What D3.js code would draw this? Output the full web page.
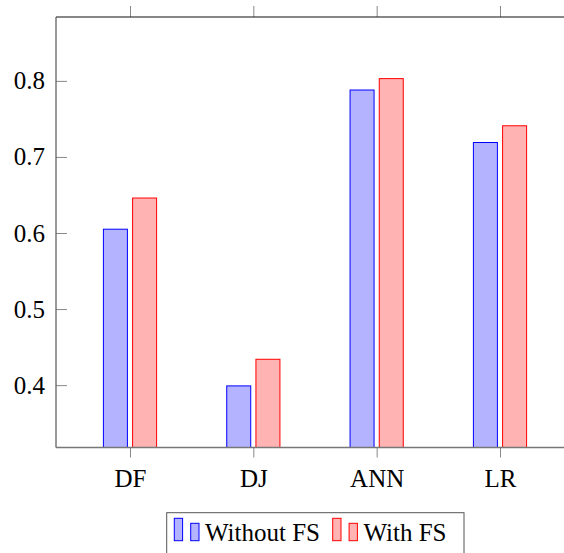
<!DOCTYPE html>
<html>
<head>
<meta charset="utf-8">
<script src="https://cdn.jsdelivr.net/npm/d3@7/dist/d3.min.js"></script>
<style>
  html, body { margin: 0; padding: 0; background: #fff; }
  svg { display: block; }
</style>
</head>
<body>
<script>
const categories = ["DF", "DJ", "ANN", "LR"];
const withoutFS = [0.605, 0.399, 0.788, 0.719];
const withFS = [0.646, 0.434, 0.803, 0.741];
const yTicks = [0.4, 0.5, 0.6, 0.7, 0.8];
const seriesNames = ["Without FS", "With FS"];

(function () {
const W = 564, H = 553;
const pLeft = 56, pTop = 17, pBottom = 447.5, pRight = 574;
const FONT = "Liberation Serif";

const svg = d3.select("body").append("svg").attr("width", W).attr("height", H);

const y = d3.scaleLinear().domain([0.318, 0.884]).range([pBottom, pTop]);
const x = d3.scalePoint().domain(categories).range([130, 500]);

const barW = 24, off = 14.6;
const series = [
  { name: seriesNames[0], values: withoutFS, fill: "#b3b3ff", stroke: "#0000ff", dx: -off },
  { name: seriesNames[1], values: withFS, fill: "#ffb3b3", stroke: "#ff0000", dx: off }
];

// bars
series.forEach(s => {
  svg.append("g").selectAll("rect").data(categories).join("rect")
    .attr("x", (c) => x(c) + s.dx - barW / 2)
    .attr("y", (c, i) => y(s.values[i]))
    .attr("width", barW)
    .attr("height", (c, i) => pBottom - y(s.values[i]))
    .attr("fill", s.fill)
    .attr("stroke", s.stroke)
    .attr("stroke-width", 1);
});

// y axis ticks (inward) and labels
const yAxis = d3.axisLeft(y).tickValues(yTicks).tickFormat(d3.format(".1f")).tickSize(-11).tickPadding(22);
const gy = svg.append("g").attr("transform", `translate(${pLeft},0)`).call(yAxis)
  .attr("font-family", FONT).attr("font-size", 25);
gy.select(".domain").remove();
gy.selectAll(".tick line").attr("stroke", "#888");
gy.selectAll(".tick text").style("font-family", FONT).style("font-size", "25px").attr("x", -11).attr("fill", "#000");

// bottom x axis (outward ticks)
const xAxis = d3.axisBottom(x).tickSize(10).tickPadding(12);
const gx = svg.append("g").attr("transform", `translate(0,${pBottom})`).call(xAxis)
  .attr("font-family", FONT).attr("font-size", 25);
gx.select(".domain").remove();
gx.selectAll(".tick line").attr("stroke", "#888");
gx.selectAll(".tick text").style("font-family", FONT).style("font-size", "25px").attr("fill", "#000");

// top ticks (outward)
const xTop = d3.axisTop(x).tickSize(11).tickFormat("");
const gt = svg.append("g").attr("transform", `translate(0,${pTop})`).call(xTop);
gt.select(".domain").remove();
gt.selectAll(".tick line").attr("stroke", "#888");

// frame
svg.append("line").attr("x1", pLeft).attr("x2", pRight).attr("y1", pTop).attr("y2", pTop).attr("stroke", "#111").attr("stroke-width", 1.2);
svg.append("line").attr("x1", pLeft).attr("x2", pLeft).attr("y1", pTop).attr("y2", pBottom).attr("stroke", "#555").attr("stroke-width", 1.2);
svg.append("line").attr("x1", pLeft).attr("x2", pRight).attr("y1", pBottom).attr("y2", pBottom).attr("stroke", "#777").attr("stroke-width", 1.5);

// legend
const lg = svg.append("g");
lg.append("rect").attr("x", 166.7).attr("y", 512.7).attr("width", 297.3).attr("height", 50)
  .attr("fill", "#fff").attr("stroke", "#555").attr("stroke-width", 1);
const legendX = [174.3, 332.7];
series.forEach((s, i) => {
  const x0 = legendX[i];
  lg.append("rect").attr("x", x0).attr("y", 518.3).attr("width", 8.3).attr("height", 22.4)
    .attr("fill", s.fill).attr("stroke", s.stroke).attr("stroke-width", 1);
  lg.append("rect").attr("x", x0 + 16.4).attr("y", 523.3).attr("width", 8.3).attr("height", 17.4)
    .attr("fill", s.fill).attr("stroke", s.stroke).attr("stroke-width", 1);
  lg.append("text").attr("x", x0 + 30.7).attr("y", 541)
    .style("font-family", FONT).style("font-size", "25px").attr("fill", "#000").text(s.name);
});
})();
</script>
</body>
</html>
